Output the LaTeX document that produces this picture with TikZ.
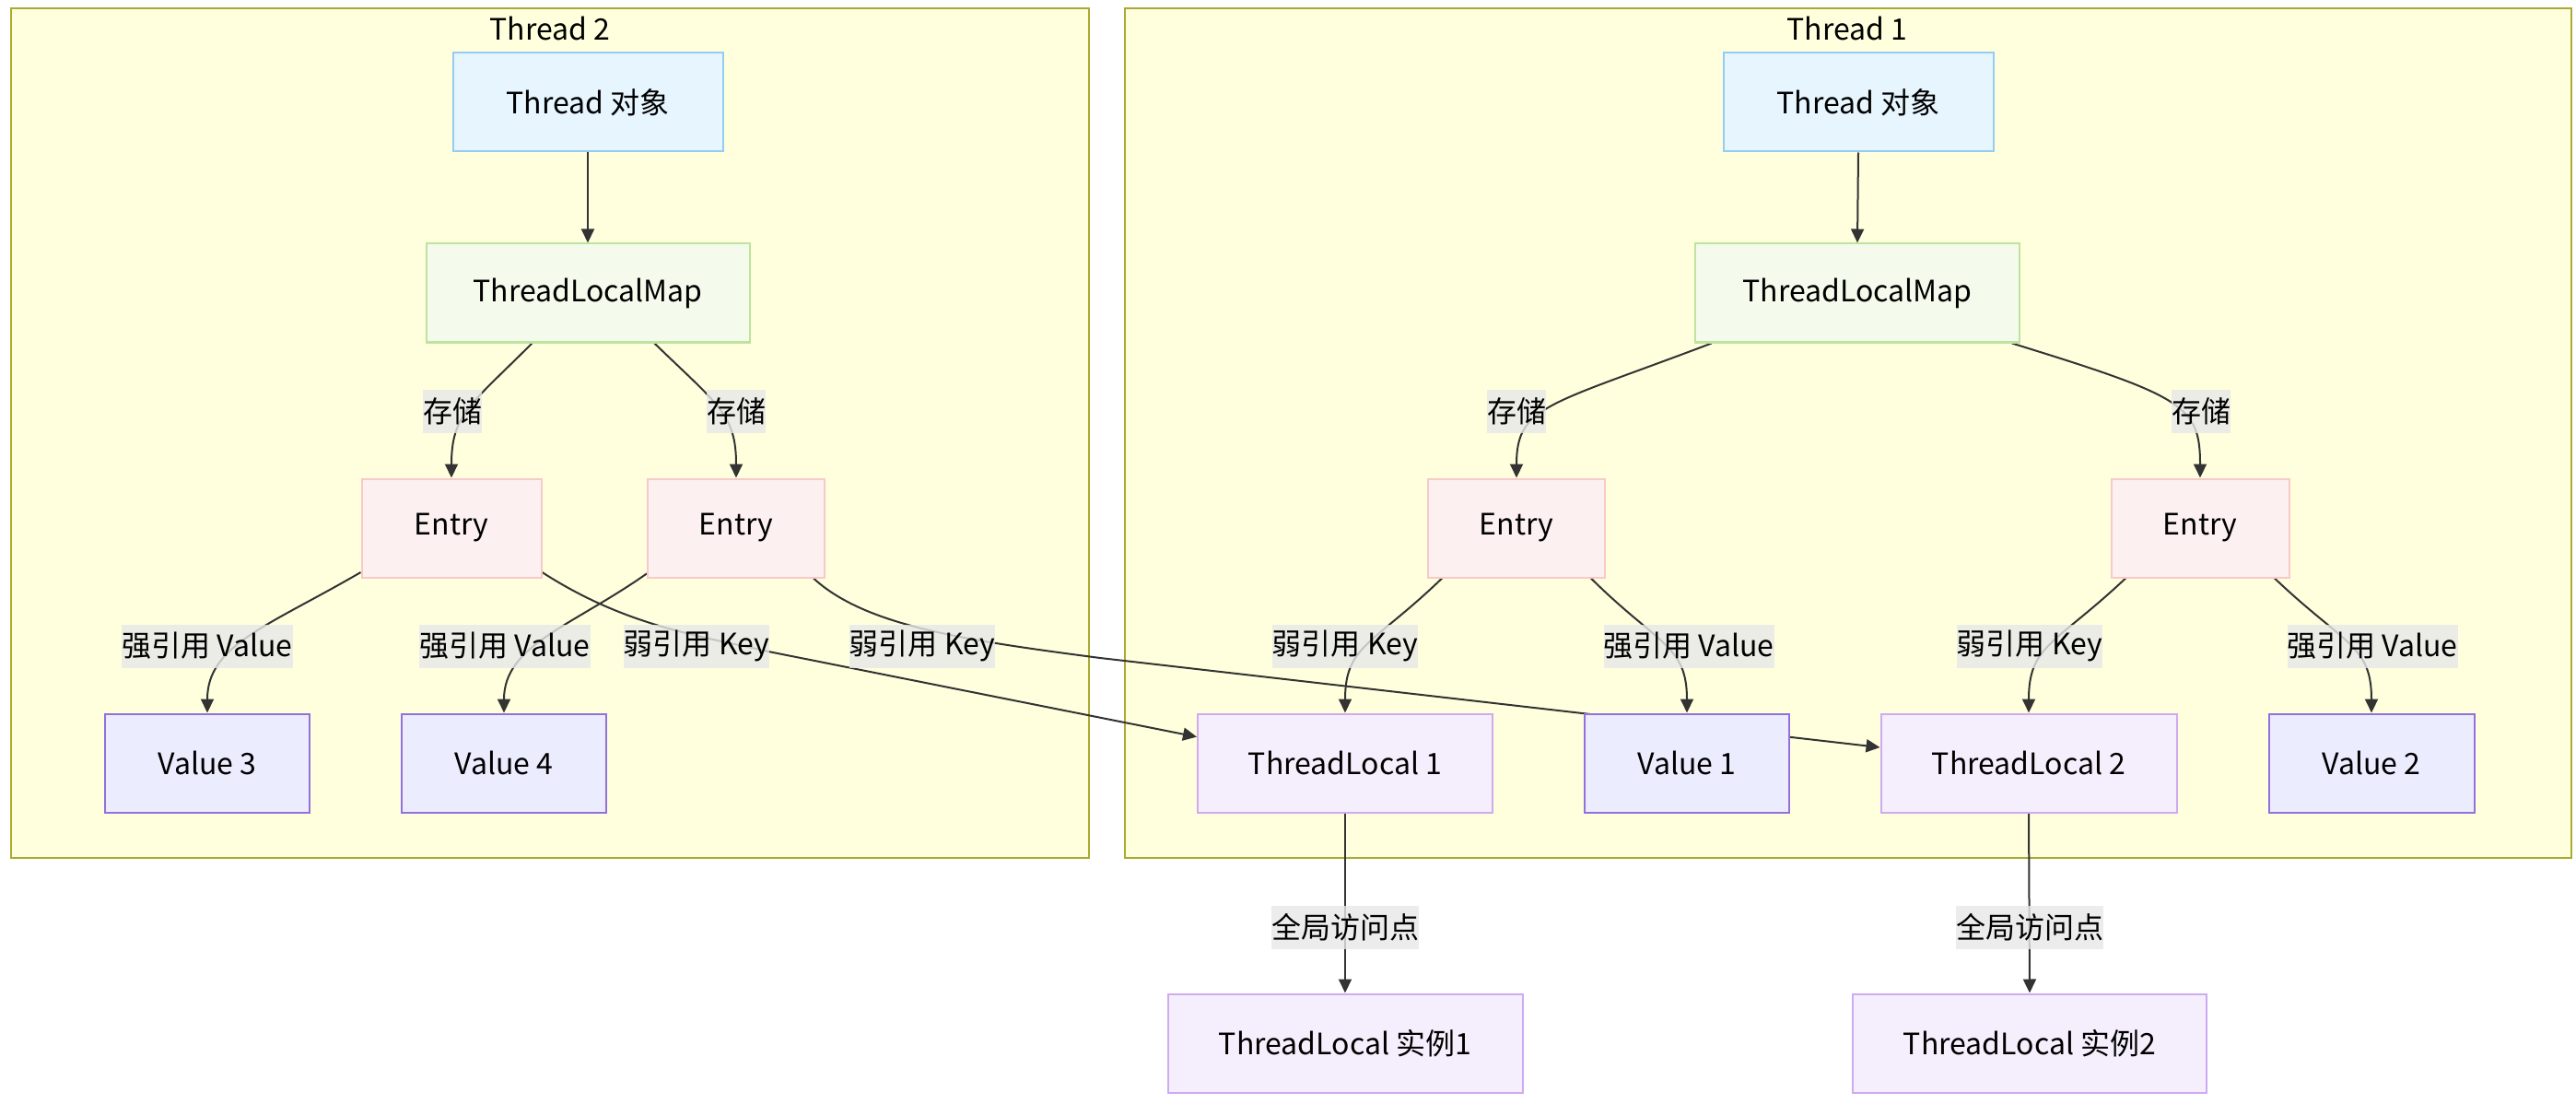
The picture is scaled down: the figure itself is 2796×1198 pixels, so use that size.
\documentclass[tikz,border=0pt]{standalone}
\usepackage{fontspec}
\setmainfont{Noto Sans CJK SC}
\usetikzlibrary{arrows.meta}
\definecolor{clfill}{HTML}{FFFFDE}
\definecolor{clline}{HTML}{AAAA33}
\definecolor{thfill}{HTML}{E6F5FE}
\definecolor{thline}{HTML}{93CDF7}
\definecolor{mpfill}{HTML}{F4FBEC}
\definecolor{mpline}{HTML}{BDE39F}
\definecolor{enfill}{HTML}{FCF0F0}
\definecolor{enline}{HTML}{F8C9C9}
\definecolor{tlfill}{HTML}{F5EFFD}
\definecolor{tlline}{HTML}{CFAAF0}
\definecolor{vafill}{HTML}{ECECFF}
\definecolor{valine}{HTML}{9370DB}
\definecolor{edgec}{HTML}{333333}
\definecolor{lblbg}{HTML}{E8E8E8}
\pgfdeclarelayer{bglayer}
\pgfdeclarelayer{edgelayer}
\pgfsetlayers{bglayer,edgelayer,main}
\begin{document}
\begin{tikzpicture}[x=0.5pt,y=-0.5pt,
  every node/.style={font=\fontsize{16pt}{19pt}\selectfont, text=black},
  box/.style={draw, line width=1pt, inner sep=0pt, minimum height=53.5pt},
  thbox/.style={box, fill=thfill, draw=thline},
  mpbox/.style={box, fill=mpfill, draw=mpline},
  enbox/.style={box, fill=enfill, draw=enline},
  tlbox/.style={box, fill=tlfill, draw=tlline},
  vabox/.style={box, fill=vafill, draw=valine},
  cluster/.style={fill=clfill, draw=clline, line width=1pt},
  lbl/.style={fill=lblbg, fill opacity=0.8, text opacity=1, inner xsep=0pt, inner ysep=0pt, minimum height=23.5pt},
  edge/.style={draw=edgec, line width=1pt, -{Triangle[length=7.5pt,width=7pt]}},
  plain/.style={draw=edgec, line width=1pt}
]
\useasboundingbox (0,0) rectangle (2796,1198);
\begin{pgfonlayer}{bglayer}
  \fill[white] (0,0) rectangle (2796,1198);
  \draw[cluster] (12,9) rectangle (1182,931);
  \draw[cluster] (1221,9) rectangle (2791,931);
\end{pgfonlayer}
\node (title2) at (597,31) {Thread 2};
\node (title1) at (2005,31) {Thread 1};

% Thread 2
\node[thbox, minimum width=146.5pt] (t2) at (638,111) {Thread 对象};
\node[mpbox, minimum width=175.5pt] (m2) at (638,318) {ThreadLocalMap};
\node[enbox, minimum width=97.5pt] (eA) at (490,573) {Entry};
\node[enbox, minimum width=96pt] (eB) at (799,573) {Entry};
\node[vabox, minimum width=111pt] (v3) at (225,828) {Value 3};
\node[vabox, minimum width=111pt] (v4) at (547,828) {Value 4};

% Thread 1
\node[thbox, minimum width=146.5pt] (t1) at (2017,111) {Thread 对象};
\node[mpbox, minimum width=176pt] (m1) at (2016,318) {ThreadLocalMap};
\node[enbox, minimum width=96pt] (eC) at (1646,573) {Entry};
\node[enbox, minimum width=96.5pt] (eD) at (2388,573) {Entry};
\node[tlbox, minimum width=160pt] (tl1) at (1460,828) {ThreadLocal 1};
\node[vabox, minimum width=111pt] (v1) at (1831,828) {Value 1};
\node[tlbox, minimum width=160.5pt] (tl2) at (2202,828) {ThreadLocal 2};
\node[vabox, minimum width=111.5pt] (v2) at (2574,828) {Value 2};

% outside
\node[tlbox, minimum width=192.5pt] (i1) at (1460,1132) {ThreadLocal 实例1};
\node[tlbox, minimum width=192pt] (i2) at (2203,1132) {ThreadLocal 实例2};

\coordinate (k1) at (834,707);
\coordinate (k2) at (1194,714);

\begin{pgfonlayer}{edgelayer}
  % Thread 2
  \draw[edge] (t2.south) -- (m2.north);
  \draw[edge] (m2.222) .. controls (510,440) and (490,450) .. (eA.north);
  \draw[edge] (m2.323) .. controls (780,440) and (799,450) .. (eB.north);
  \draw[edge] (eA.206) .. controls (290,680) and (225,700) .. (v3.north);
  \draw[edge] (eB.207) .. controls (620,680) and (547,700) .. (v4.north);
  \draw[plain] (eA.334) .. controls (680,680) and (760,690) .. (k1);
  \draw[edge] (k1) -- (tl1.170);
  \draw[plain] (eB.327) .. controls (940,680) and (1050,695) .. (k2);
  \draw[edge] (k2) -- (tl2.174);
  % Thread 1
  \draw[edge] (t1.south) -- (m1.north);
  \draw[edge] (m1.199) .. controls (1680,440) and (1646,440) .. (eC.north);
  \draw[edge] (m1.342) .. controls (2370,430) and (2388,440) .. (eD.north);
  \draw[edge] (eC.214) .. controls (1490,700) and (1460,700) .. (tl1.north);
  \draw[edge] (eC.326) .. controls (1800,700) and (1831,700) .. (v1.north);
  \draw[edge] (eD.214) .. controls (2230,700) and (2202,700) .. (tl2.north);
  \draw[edge] (eD.326) .. controls (2545,700) and (2574,700) .. (v2.north);
  \draw[edge] (tl1.south) -- (i1.north);
  \draw[edge] (tl2.south) -- (i2.north);

  % labels
  \node[lbl] (l1) at (491,446) {存储};
  \node[lbl] (l2) at (799,446) {存储};
  \node[lbl] (l3) at (225,701) {强引用 Value};
  \node[lbl] (l4) at (548,701) {强引用 Value};
  \node[lbl] (l5) at (756,701) {弱引用 Key};
  \node[lbl] (l6) at (1001,701) {弱引用 Key};
  \node[lbl] (l7) at (1646,446) {存储};
  \node[lbl] (l8) at (2389,446) {存储};
  \node[lbl] (l9) at (1460,701) {弱引用 Key};
  \node[lbl] (l10) at (1833,701) {强引用 Value};
  \node[lbl] (l11) at (2203,701) {弱引用 Key};
  \node[lbl] (l12) at (2575,701) {强引用 Value};
  \node[lbl] (l13) at (1460,1006) {全局访问点};
  \node[lbl] (l14) at (2203,1006) {全局访问点};
\end{pgfonlayer}
\end{tikzpicture}
\end{document}
